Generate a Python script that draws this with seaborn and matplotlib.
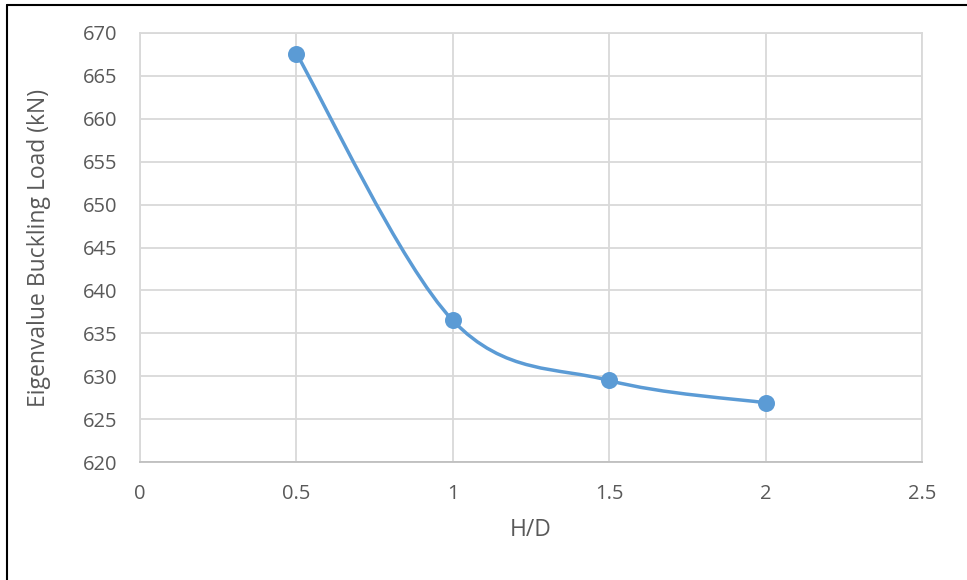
import numpy as np
import matplotlib
matplotlib.use("Agg")
import matplotlib.pyplot as plt
from matplotlib.path import Path
from matplotlib.patches import PathPatch
from matplotlib.lines import Line2D
import seaborn as sns
import pandas as pd

hd = [0.5, 1.0, 1.5, 2.0]
load = [667.6, 636.5, 629.5, 626.9]
x_ticks = [0, 0.5, 1, 1.5, 2, 2.5]
x_tick_labels = ["0", "0.5", "1", "1.5", "2", "2.5"]
y_ticks = [620, 625, 630, 635, 640, 645, 650, 655, 660, 665, 670]

sns.set_theme(style="white")
plt.rcParams['font.family'] = ['Open Sans', 'DejaVu Sans']

color = "#5B9BD5"
grid = "#D9D9D9"
txt = "#595959"

fig = plt.figure(figsize=(9.67, 5.8), dpi=100)
ax = fig.add_axes([140/967, 1-462/580, (922-140)/967, (462-33)/580])

df = pd.DataFrame({"H/D": hd, "load": load})

# Excel-style smoothed curve (cubic Bezier, Catmull-Rom control points)
pts = np.column_stack([hd, load])
verts = [tuple(pts[0])]
codes = [Path.MOVETO]
n = len(pts)
for i in range(n - 1):
    p0 = pts[i - 1] if i > 0 else pts[i]
    p1 = pts[i]
    p2 = pts[i + 1]
    p3 = pts[i + 2] if i + 2 < n else pts[i + 1]
    c1 = p1 + (p2 - p0) / 6.0
    c2 = p2 - (p3 - p1) / 6.0
    verts += [tuple(c1), tuple(c2), tuple(p2)]
    codes += [Path.CURVE4] * 3
ax.add_patch(PathPatch(Path(verts, codes), facecolor="none", edgecolor=color,
                       lw=2.5, capstyle="round", zorder=3))

sns.scatterplot(data=df, x="H/D", y="load", ax=ax, color=color, s=150,
                edgecolor=color, linewidth=0, zorder=4, legend=False)

ax.set_xlim(0, 2.5)
ax.set_ylim(620, 670)
ax.set_xticks(x_ticks)
ax.set_xticklabels(x_tick_labels)
ax.set_yticks(y_ticks)
ax.grid(True, color=grid, lw=1.3)
ax.set_axisbelow(True)
for s in ax.spines.values():
    s.set_color(grid)
    s.set_linewidth(1.3)
ax.spines["bottom"].set_color("#BFBFBF")
ax.tick_params(axis="both", length=0, colors=txt, labelsize=14.5)
ax.tick_params(axis="x", pad=16)
ax.tick_params(axis="y", pad=16)
ax.set_xlabel("H/D", fontsize=16.5, color=txt, labelpad=10)
ax.set_ylabel("Eigenvalue Buckling Load (kN)", fontsize=16.5, color=txt, labelpad=23)

# outer frame (left and top edges)
fig.add_artist(Line2D([7/967, 7/967], [0, 1-5/580], transform=fig.transFigure, color="black", lw=1.5))
fig.add_artist(Line2D([7/967, 1], [1-5/580, 1-5/580], transform=fig.transFigure, color="black", lw=1.5))

fig.savefig("out.png", dpi=100)
